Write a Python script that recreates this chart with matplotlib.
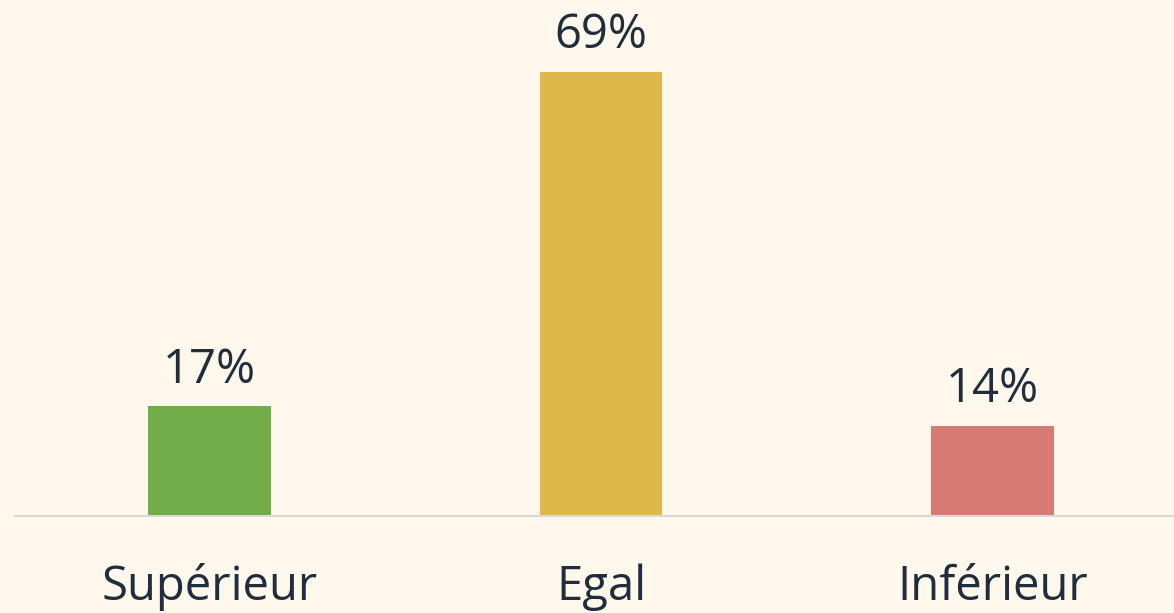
import matplotlib.pyplot as plt

categories = ['Supérieur', 'Egal', 'Inférieur']
values = [17, 69, 14]
colors = ['#70AD47', '#E0B84A', '#D67A73']

bg = '#FEF8EC'
txt = '#1F2D3D'

plt.rcParams['font.family'] = ['Open Sans', 'DejaVu Sans']

fig = plt.figure(figsize=(11.74, 6.13), dpi=100, facecolor=bg)
ax = fig.add_axes([15 / 1174, 97 / 613, 1159 / 1174, 516 / 613])
ax.set_facecolor(bg)

x = list(range(len(categories)))
bars = ax.bar(x, values, width=0.314, color=colors)

for b, v in zip(bars, values):
    ax.annotate(f'{v}%', (b.get_x() + b.get_width() / 2, v),
                xytext=(0, 9), textcoords='offset points',
                ha='center', va='bottom', fontsize=34, color=txt)

ax.set_xlim(-0.4968, 2.4636)
ax.set_ylim(0, 80.1)
ax.set_xticks(x)
ax.set_xticklabels(categories, fontsize=34, color=txt)
ax.tick_params(axis='x', length=0, pad=34)
ax.set_yticks([])
for s in ['top', 'left', 'right']:
    ax.spines[s].set_visible(False)
ax.spines['bottom'].set_color('#D9D9D9')
ax.spines['bottom'].set_linewidth(1.5)

fig.savefig('out.png', dpi=100, facecolor=bg)
